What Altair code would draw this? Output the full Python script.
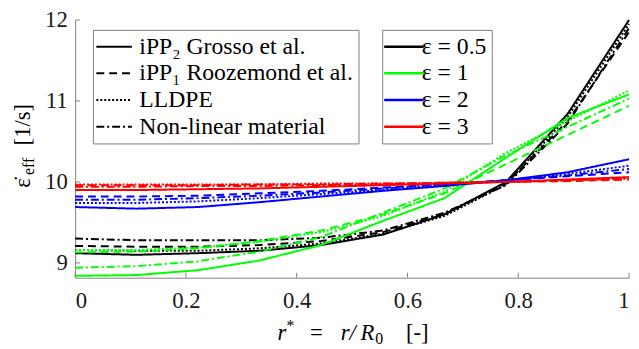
import altair as alt
import pandas as pd

# ---------------- data ----------------
r_star = [0.0, 0.111, 0.222, 0.333, 0.444, 0.556, 0.667, 0.778, 0.889, 1.0]

materials = ["iPP₂ Grosso et al.", "iPP₁ Roozemond et al.", "LLDPE", "Non-linear material"]
strains = ["ε = 0.5", "ε = 1", "ε = 2", "ε = 3"]

# eps = 0.5
e05_grosso    = [9.12, 9.10, 9.12, 9.15, 9.22, 9.35, 9.60, 10.00, 10.84, 12.00]
e05_roozemond = [9.21, 9.20, 9.20, 9.22, 9.27, 9.38, 9.60, 9.98, 10.75, 11.85]
e05_lldpe     = [9.16, 9.15, 9.15, 9.18, 9.24, 9.36, 9.58, 9.97, 10.80, 11.95]
e05_nonlin    = [9.30, 9.28, 9.28, 9.28, 9.31, 9.40, 9.62, 9.96, 10.72, 11.90]
# eps = 1
e1_grosso     = [8.84, 8.85, 8.91, 9.03, 9.22, 9.52, 9.80, 10.30, 10.79, 11.08]
e1_roozemond  = [9.13, 9.14, 9.18, 9.27, 9.40, 9.60, 9.86, 10.22, 10.58, 10.94]
e1_lldpe      = [9.16, 9.16, 9.19, 9.26, 9.38, 9.58, 9.88, 10.36, 10.75, 11.13]
e1_nonlin     = [8.94, 8.96, 9.02, 9.14, 9.32, 9.62, 9.92, 10.33, 10.68, 11.03]
# eps = 2
e2_grosso     = [9.69, 9.67, 9.69, 9.75, 9.82, 9.89, 9.95, 10.02, 10.12, 10.28]
e2_roozemond  = [9.82, 9.82, 9.83, 9.86, 9.89, 9.93, 9.97, 10.02, 10.07, 10.12]
e2_lldpe      = [9.74, 9.74, 9.76, 9.80, 9.85, 9.90, 9.96, 10.02, 10.10, 10.20]
e2_nonlin     = [9.78, 9.78, 9.80, 9.83, 9.87, 9.92, 9.97, 10.02, 10.08, 10.16]
# eps = 3
e3_grosso     = [9.90, 9.90, 9.91, 9.92, 9.94, 9.96, 9.98, 10.00, 10.03, 10.06]
e3_roozemond  = [9.96, 9.96, 9.96, 9.97, 9.97, 9.98, 9.99, 10.00, 10.01, 10.03]
e3_lldpe      = [9.97, 9.97, 9.97, 9.97, 9.98, 9.98, 9.99, 10.00, 10.02, 10.05]
e3_nonlin     = [9.94, 9.94, 9.95, 9.95, 9.96, 9.97, 9.99, 10.00, 10.02, 10.04]

x_ticks = [0, 0.2, 0.4, 0.6, 0.8, 1]
y_ticks = [9, 10, 11, 12]

series = {
    (strains[0], materials[0]): e05_grosso,
    (strains[0], materials[1]): e05_roozemond,
    (strains[0], materials[2]): e05_lldpe,
    (strains[0], materials[3]): e05_nonlin,
    (strains[1], materials[0]): e1_grosso,
    (strains[1], materials[1]): e1_roozemond,
    (strains[1], materials[2]): e1_lldpe,
    (strains[1], materials[3]): e1_nonlin,
    (strains[2], materials[0]): e2_grosso,
    (strains[2], materials[1]): e2_roozemond,
    (strains[2], materials[2]): e2_lldpe,
    (strains[2], materials[3]): e2_nonlin,
    (strains[3], materials[0]): e3_grosso,
    (strains[3], materials[1]): e3_roozemond,
    (strains[3], materials[2]): e3_lldpe,
    (strains[3], materials[3]): e3_nonlin,
}

rows = []
for (s, m), vals in series.items():
    for xv, yv in zip(r_star, vals):
        rows.append({"r": xv, "rate": yv, "strain": s, "material": m})
df = pd.DataFrame(rows)

FONT = "Liberation Serif"
GRAY = "#808080"
W, H = 561, 261
xscale = alt.Scale(domain=[0, 1], nice=False, zero=False)
yscale = alt.Scale(domain=[8.817, 12], nice=False, zero=False)

xaxis = alt.Axis(values=x_ticks, format="~g", title=None, ticks=False, grid=False,
                 domainColor=GRAY, labelFont=FONT, labelFontSize=23,
                 labelColor="#1a1a1a", labelPadding=12)
yaxis = alt.Axis(values=y_ticks, format="d", title=None, ticks=False, grid=False,
                 domainColor=GRAY, labelFont=FONT, labelFontSize=23,
                 labelColor="#1a1a1a", labelPadding=8)

LINE_SYMBOL = "M-1.5,0H2.5"

lines = alt.Chart(df).mark_line(strokeWidth=2).encode(
    x=alt.X("r:Q", scale=xscale, axis=xaxis),
    y=alt.Y("rate:Q", scale=yscale, axis=yaxis),
    color=alt.Color("strain:N",
                    scale=alt.Scale(domain=strains, range=["#000000", "#00ff00", "#0000ff", "#ff0000"]),
                    legend=alt.Legend(orient="none", legendX=311, legendY=10, title=None,
                                      symbolType=LINE_SYMBOL, symbolSize=400, symbolStrokeWidth=2.5,
                                      symbolFillColor="transparent",
                                      labelFont=FONT, labelFontSize=24, labelColor="black",
                                      labelOffset=11, padding=5, rowPadding=3,
                                      strokeColor=GRAY, fillColor="white", labelLimit=400)),
    strokeDash=alt.StrokeDash("material:N",
                              scale=alt.Scale(domain=materials,
                                              range=[[1, 0], [8, 5], [2, 2], [8, 3, 2, 3]]),
                              legend=alt.Legend(orient="none", legendX=18, legendY=10, title=None,
                                                symbolType=LINE_SYMBOL, symbolSize=324,
                                                symbolStrokeWidth=2, symbolStrokeColor="black",
                                                symbolFillColor="transparent",
                                                labelFont=FONT, labelFontSize=24, labelColor="black",
                                                labelOffset=18, padding=5, rowPadding=3,
                                                strokeColor=GRAY, fillColor="white", labelLimit=400)),
    order=alt.Order("r:Q"),
)

xt = alt.Chart(pd.DataFrame({"r": x_ticks})).mark_rule(color=GRAY, strokeWidth=1).encode(
    x=alt.X("r:Q", scale=xscale, axis=xaxis),
    y=alt.value(H), y2=alt.value(H - 5),
)
yt = alt.Chart(pd.DataFrame({"rate": y_ticks})).mark_rule(color=GRAY, strokeWidth=1).encode(
    y=alt.Y("rate:Q", scale=yscale, axis=yaxis),
    x=alt.value(0), x2=alt.value(5),
)

dummy = pd.DataFrame({"a": [0]})

def txt(s, x, y, size=23, italic=False, angle=0):
    kw = dict(text=s, font=FONT, fontSize=size, color="black", align="left",
              baseline="alphabetic")
    if italic:
        kw["fontStyle"] = "italic"
    if angle:
        kw["angle"] = angle
    return alt.Chart(dummy).mark_text(**kw).encode(x=alt.value(x), y=alt.value(y))

# x-axis title pieces: r* = r/R0 [-]
xb = 324
xtitle = [
    txt("r", 205, xb, italic=True),
    txt("*", 214, xb - 9, size=16),
    txt("=", 238, xb),
    txt("r/", 269, xb, italic=True),
    txt("R", 289, xb, italic=True),
    txt("0", 304, xb + 4, size=16),
    txt("[-]", 335, xb),
]
# y-axis title pieces (rotated): eps-dot_eff [1/s]
ytitle = [
    txt("ε\u0307", -46, 170, angle=270),
    txt("eff", -42, 157, size=16, angle=270),
    txt("[1/s]", -46, 127, angle=270),
]

chart = alt.layer(lines, xt, yt, *xtitle, *ytitle).properties(
    width=W, height=H,
    padding={"left": 68, "top": 10, "right": 2, "bottom": 68},
    autosize=alt.AutoSizeParams(type="none"),
).configure_view(strokeWidth=0)

chart.save("out.html", embed_options={"renderer": "svg", "actions": False})
